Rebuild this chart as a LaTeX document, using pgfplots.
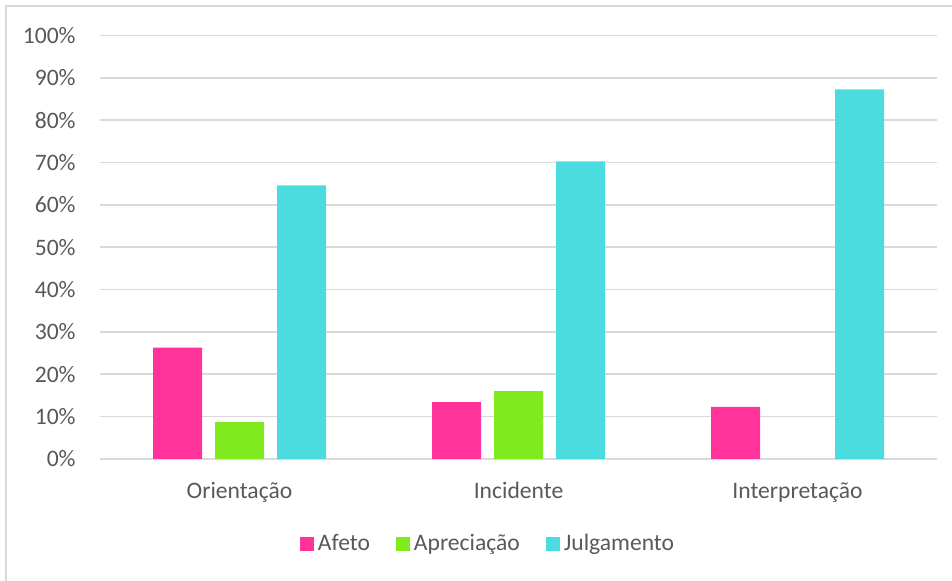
\documentclass[border=0pt]{standalone}
\usepackage{pgfplots}
\pgfplotsset{compat=1.18}
\usepackage{fontspec}
\setmainfont{Carlito}
\definecolor{afeto}{HTML}{FF3399}
\definecolor{aprec}{HTML}{7FEB1E}
\definecolor{julg}{HTML}{4BDCE0}
\definecolor{textgray}{HTML}{595959}
\definecolor{gridgray}{HTML}{D9D9D9}
\begin{document}
\begin{tikzpicture}[x=0.5bp,y=0.5bp]
\useasboundingbox (0,0) rectangle (952,581);
\draw[color=gridgray, line width=0.75bp] (6,-20) -- (6,575) -- (990,575);
\begin{axis}[
  at={(50bp,61bp)}, anchor=south west,
  scale only axis, width=418.5bp, height=211.75bp,
  ybar=6.5bp, bar width=24.5bp,
  xmin=-0.5, xmax=2.5, ymin=0, ymax=100,
  xtick={0,1,2}, xticklabels={Orientação,Incidente,Interpretação},
  ytick={0,10,...,100},
  yticklabels={0\%,10\%,20\%,30\%,40\%,50\%,60\%,70\%,80\%,90\%,100\%},
  ymajorgrids, grid style={gridgray, line width=0.8bp},
  axis line style={draw=none},
  major tick length=0pt, tick style={draw=none},
  every tick label/.append style={font=\fontsize{11.8bp}{13bp}\selectfont, text=textgray},
  xticklabel style={anchor=base, yshift=-20bp, inner sep=0pt},
  yticklabel style={anchor=east, xshift=-12bp, inner sep=0pt},
  legend columns=3,
  legend style={at={(axis description cs:0.4648,-0.2007)}, anchor=center, draw=none, fill=none,
    inner sep=0pt, font=\fontsize{11.8bp}{13bp}\selectfont, text=textgray,
    /tikz/every even column/.append style={column sep=11bp}},
  legend image code/.code={\fill[#1] (0bp,-3.5bp) rectangle (7bp,3.5bp);},
]
\addplot[fill=afeto, draw=none] coordinates {(0,26.3) (1,13.4) (2,12.3)};
\addplot[fill=aprec, draw=none] coordinates {(0,8.7) (1,16.0)};
\addplot[fill=julg, draw=none] coordinates {(0,64.6) (1,70.3) (2,87.3)};
\legend{Afeto,Apreciação,Julgamento}
\end{axis}
\end{tikzpicture}
\end{document}
